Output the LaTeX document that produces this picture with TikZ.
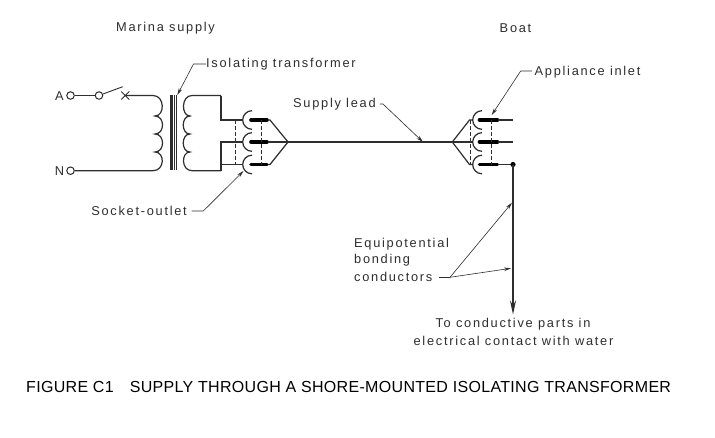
\documentclass[tikz,border=0pt]{standalone}
\usepackage{fontspec}
\setmainfont{Liberation Sans}
\newfontfamily\lblfont[LetterSpace=13.5]{Liberation Sans}
\newfontfamily\capfont[LetterSpace=2]{Liberation Sans}
\usetikzlibrary{arrows.meta,calc}
\definecolor{ink}{HTML}{2E2E2E}
\tikzset{
  wire/.style={draw=ink,line width=1.2pt},
  thin wire/.style={draw=ink,line width=0.9pt},
  blade/.style={draw=black,line width=3.6pt,line cap=round},
  sep/.style={draw=ink,line width=0.6pt,dash pattern=on 3.5pt off 2.5pt},
  leader/.style={draw=ink,line width=0.6pt},
  leadarrow/.style={leader,-{Stealth[length=7pt,width=3.6pt]}},
  term/.style={circle,draw=ink,line width=1pt,fill=white,inner sep=0pt,minimum size=7.5pt},
  lbl/.style={font=\fontsize{12.8}{15}\lblfont,text=ink,inner sep=0pt},
}
\begin{document}
\begin{tikzpicture}[x=1pt,y=-1pt]
\useasboundingbox[fill=white] (0,0) rectangle (715,437);
% labels
\node[lbl] (marina) at (165.5,28) {Marina supply};
\node[lbl] (boat) at (515.5,28) {Boat};
\node[lbl,anchor=west] (isol) at (206,64) {Isolating transformer};
\node[lbl,anchor=west] (lead) at (293,104) {Supply lead};
\node[lbl,anchor=west] (inlet) at (534.5,72) {Appliance inlet};
\node[lbl,anchor=east] (socket) at (187,211) {Socket-outlet};
\node[lbl,anchor=west] (equi) at (354,244) {Equipotential};
\node[lbl,anchor=west] (bond) at (354,260) {bonding};
\node[lbl,anchor=west] (cond) at (354,276.5) {conductors};
\node[lbl] (to1) at (513,324.5) {To conductive parts in};
\node[lbl] (to2) at (513.5,340.5) {electrical contact with water};
\node[inner sep=0pt,anchor=west,font=\fontsize{16}{18}\capfont,text=black] (cap) at (26,387)
  {FIGURE C1\hspace{16pt}SUPPLY THROUGH A SHORE-MOUNTED ISOLATING TRANSFORMER};
\node[lbl] (A) at (59.5,96) {A};
\node[lbl] (N) at (59.5,171) {N};
% terminals and primary
\node[term] (ta) at (70.5,95.5) {};
\node[term] (tn) at (70.5,170.7) {};
\node[term] (sw) at (99,95.5) {};
\coordinate (swtip) at (122.7,86.7);
\coordinate (brk) at (125.3,95.5);
\coordinate (p1) at (153,95.5);
\coordinate (p5) at (153,170.7);
\draw[wire] (ta) -- (sw);
\draw[thin wire] (sw) -- (swtip);
\draw[thin wire] ($(brk)+(-4,-4)$) -- ($(brk)+(4,4)$) ($(brk)+(-4,4)$) -- ($(brk)+(4,-4)$);
\draw[wire] (brk) -- (p1)
  .. controls (165,95.5) and (165,116) .. (155,116)
  .. controls (165,116) and (165,134) .. (155,134)
  .. controls (165,134) and (165,152) .. (155,152)
  .. controls (165,152) and (165,170.7) .. (p5) -- (tn);
% core
\foreach \x in {171,172.7,174.4,176.1}
  \draw[draw=ink,line width=1.1pt] (\x,95) -- (\x,169.5);
% secondary
\coordinate (s1) at (192,95.5);
\coordinate (s5) at (192,170.7);
\coordinate (jt) at (221,95.5);
\coordinate (jb) at (221,170.7);
\draw[wire] (jt) -- (s1)
  .. controls (181,95.5) and (181,116) .. (190,116)
  .. controls (181,116) and (181,134) .. (190,134)
  .. controls (181,134) and (181,152) .. (190,152)
  .. controls (181,152) and (181,170.7) .. (s5) -- (jb);
\coordinate (row1L) at (243,120);
\coordinate (row2L) at (243,142);
\coordinate (row3L) at (243,164.5);
\draw[wire] (jt) -- (221,120) -- (row1L);
\draw[wire] (jb) -- (221,142) -- (row2L);
\draw[wire] (221,164.5) -- (row3L);
% left connector
\foreach \y in {120,142,164.5}{
  \draw[wire] (252,\y+9.3) arc[start angle=90,end angle=270,radius=9.3];
  \draw[blade] (251,\y) -- (267,\y);
}
\draw[sep] (235,120) -- (235,164.5);
\draw[sep] (261.7,120) -- (261.7,164.5);
\coordinate (forkL) at (288,142);
\draw[wire] (268,120) -- (270,120) -- (forkL) -- (270,164.5) -- (268,164.5);
\coordinate (forkR) at (452.3,142);
\draw[wire] (268,142) -- (forkL) -- (forkR);
% right connector
\foreach \y in {120,142,164.5}{
  \draw[wire] (482,\y+9.3) arc[start angle=90,end angle=270,radius=9.3];
  \draw[blade] (479.5,\y) -- (497.5,\y);
}
\draw[sep] (470.7,120) -- (470.7,164.5);
\draw[sep] (491.7,120) -- (491.7,164.5);
\draw[wire] (473,120) -- (469.5,120) -- (forkR) -- (469.5,164.5) -- (473,164.5);
\draw[wire] (forkR) -- (473,142);
\coordinate (out1) at (513.3,120);
\coordinate (out2) at (513.3,142);
\coordinate (dot) at (513,164.5);
\coordinate (gnd) at (513,314.5);
\draw[wire] (498,120) -- (out1);
\draw[wire] (498,142) -- (out2);
\draw[wire] (498,164.5) -- (dot);
\fill[black] (dot) circle (2.6);
\draw[wire,-{Stealth[length=14pt,width=6pt]}] (dot) -- (gnd);
% leaders
\coordinate (l1) at (193.5,64);
\coordinate (t1) at (177.3,95);
\draw[leadarrow] (isol.west) -- (l1) -- (t1);
\coordinate (l2) at (203.3,211);
\coordinate (t2) at (243.5,171);
\draw[leadarrow] (socket.east) ++(4.5,0) -- (l2) -- (t2);
\coordinate (l3) at (383,104);
\coordinate (t3) at (423,142);
\draw[leadarrow] (lead.east) ++(4,0) -- (l3) -- (t3);
\coordinate (l4) at (520.7,71);
\coordinate (t4) at (491.7,115);
\draw[leadarrow] (inlet.west) ++(-2.5,-1) -- (l4) -- (t4);
\coordinate (l5) at (450,277.3);
\coordinate (t5) at (512,202.7);
\coordinate (t6) at (511,268.3);
\draw[leader] (439.3,277.3) -- (l5);
\draw[leadarrow] (l5) -- (t5);
\draw[leadarrow] (l5) -- (t6);
\end{tikzpicture}
\end{document}
